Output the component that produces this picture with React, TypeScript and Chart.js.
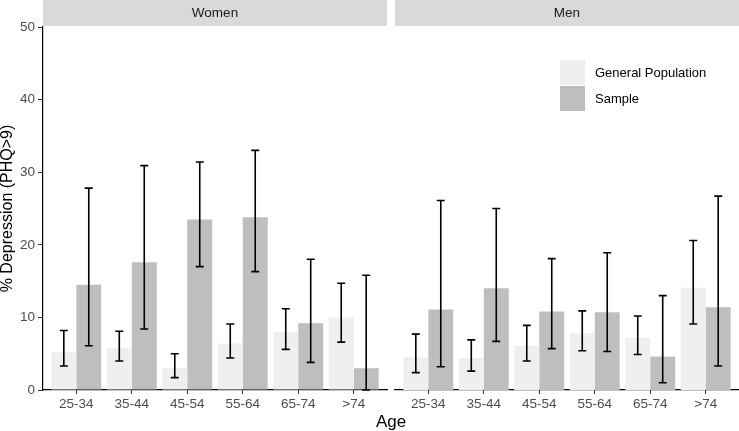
import React, { useEffect, useRef } from 'react';
import { Chart, registerables } from 'chart.js';

Chart.register(...registerables);

// ---------- data ----------
const ageGroups = ['25-34', '35-44', '45-54', '55-64', '65-74', '>74'];
const seriesNames = ['General Population', 'Sample'];
const yTicks = [0, 10, 20, 30, 40, 50];

const womenGP = [5.2, 5.8, 3.0, 6.4, 8.0, 10.0];
const womenGPLow = [3.3, 4.0, 1.7, 4.4, 5.6, 6.6];
const womenGPHigh = [8.2, 8.1, 5.0, 9.1, 11.2, 14.7];
const womenSample = [14.5, 17.6, 23.5, 23.8, 9.2, 3.0];
const womenSampleLow = [6.1, 8.4, 17.0, 16.3, 3.8, 0.0];
const womenSampleHigh = [27.8, 30.9, 31.4, 33.0, 18.0, 15.8];

const menGP = [4.5, 4.4, 6.1, 7.8, 7.2, 14.1];
const menGPLow = [2.4, 2.6, 4.0, 5.4, 4.9, 9.1];
const menGPHigh = [7.7, 6.9, 8.9, 10.9, 10.2, 20.6];
const menSample = [11.1, 14.0, 10.8, 10.7, 4.6, 11.4];
const menSampleLow = [3.2, 6.7, 5.7, 5.3, 1.0, 3.3];
const menSampleHigh = [26.1, 25.0, 18.1, 18.9, 13.0, 26.7];

// ---------- style / layout ----------
const W = 739;
const H = 431;
const FONT = '"Liberation Sans", Arial, sans-serif';
const GP_COLOR = '#efefef';
const SAMPLE_COLOR = '#bebebe';
const STRIP_COLOR = '#d9d9d9';
const LEFT_AXIS_W = 43;
const LEFT_PANEL_RIGHT = 387;
const RIGHT_PANEL_LEFT = 395;
const TOP = 27;
const X_AXIS_H = 41;

const errorBarPlugin = {
  id: 'errorBars',
  afterDatasetsDraw(chart: any) {
    const ctx = chart.ctx;
    const y = chart.scales.y;
    chart.data.datasets.forEach((ds: any, i: number) => {
      const meta = chart.getDatasetMeta(i);
      meta.data.forEach((bar: any, j: number) => {
        const lo = y.getPixelForValue(ds.errLow[j]);
        const hi = y.getPixelForValue(ds.errHigh[j]);
        const half = bar.width * 0.16;
        ctx.save();
        ctx.strokeStyle = '#000';
        ctx.lineWidth = 1.6;
        ctx.beginPath();
        ctx.moveTo(bar.x, lo);
        ctx.lineTo(bar.x, hi);
        ctx.moveTo(bar.x - half, lo);
        ctx.lineTo(bar.x + half, lo);
        ctx.moveTo(bar.x - half, hi);
        ctx.lineTo(bar.x + half, hi);
        ctx.stroke();
        ctx.restore();
      });
    });
  },
};

const stripPlugin = {
  id: 'strip',
  beforeDraw(chart: any, _args: any, opts: any) {
    const { ctx, chartArea } = chart;
    ctx.save();
    ctx.fillStyle = STRIP_COLOR;
    ctx.fillRect(chartArea.left, 0, chartArea.right - chartArea.left, 26);
    ctx.fillStyle = '#1a1a1a';
    ctx.font = `13.5px ${FONT}`;
    ctx.textAlign = 'center';
    ctx.textBaseline = 'middle';
    ctx.fillText(opts.text, (chartArea.left + chartArea.right) / 2, 13.5);
    ctx.restore();
  },
};

const legendPlugin = {
  id: 'panelLegend',
  afterDraw(chart: any, _args: any, opts: any) {
    if (!opts.show) return;
    const { ctx, chartArea } = chart;
    const x0 = chartArea.left + 165;
    const y0 = chartArea.top + 33;
    ctx.save();
    chart.data.datasets.forEach((ds: any, i: number) => {
      ctx.fillStyle = ds.backgroundColor;
      ctx.fillRect(x0, y0 + i * 26, 25, 25);
      ctx.fillStyle = '#000';
      ctx.font = `13px ${FONT}`;
      ctx.textAlign = 'left';
      ctx.textBaseline = 'middle';
      ctx.fillText(ds.label, x0 + 35, y0 + i * 26 + 13);
    });
    ctx.restore();
  },
};

const xTitlePlugin = {
  id: 'xTitle',
  afterDraw(chart: any, _args: any, opts: any) {
    if (!opts.show) return;
    const ctx = chart.ctx;
    ctx.save();
    ctx.fillStyle = '#000';
    ctx.font = `17px ${FONT}`;
    ctx.textAlign = 'center';
    ctx.textBaseline = 'middle';
    ctx.fillText('Age', (LEFT_AXIS_W + W) / 2, 422);
    ctx.restore();
  },
};

function makeConfig(
  panel: string,
  gp: number[], gpLow: number[], gpHigh: number[],
  sm: number[], smLow: number[], smHigh: number[],
  isLeft: boolean
): any {
  return {
    type: 'bar',
    data: {
      datasets: [
        {
          label: seriesNames[0],
          data: gp.map((v, i) => ({ x: i, y: v })),
          errLow: gpLow,
          errHigh: gpHigh,
          backgroundColor: GP_COLOR,
          borderWidth: 0,
          categoryPercentage: 0.9,
          barPercentage: 1.0,
        },
        {
          label: seriesNames[1],
          data: sm.map((v, i) => ({ x: i, y: v })),
          errLow: smLow,
          errHigh: smHigh,
          backgroundColor: SAMPLE_COLOR,
          borderWidth: 0,
          categoryPercentage: 0.9,
          barPercentage: 1.0,
        },
      ],
    },
    options: {
      responsive: false,
      animation: false,
      devicePixelRatio: 1,
      layout: {
        padding: isLeft
          ? { left: 0, right: W - LEFT_PANEL_RIGHT, top: TOP, bottom: 0 }
          : { left: RIGHT_PANEL_LEFT, right: 0, top: TOP, bottom: 0 },
      },
      plugins: {
        legend: { display: false },
        tooltip: { enabled: false },
        title: { display: false },
        strip: { text: panel },
        panelLegend: { show: !isLeft },
        xTitle: { show: !isLeft },
      },
      scales: {
        x: {
          type: 'linear',
          offset: false,
          min: -0.6,
          max: 5.6,
          afterBuildTicks: (scale: any) => {
            scale.ticks = ageGroups.map((_, i) => ({ value: i }));
          },
          afterFit: (scale: any) => {
            scale.height = X_AXIS_H;
          },
          ticks: {
            autoSkip: false,
            maxRotation: 0,
            padding: 2,
            color: '#4d4d4d',
            font: { family: FONT, size: 13.5 },
            callback: (v: number) => ageGroups[Math.round(v)],
          },
          grid: {
            display: true,
            offset: false,
            drawOnChartArea: false,
            drawTicks: true,
            tickLength: 4,
            color: '#333333',
          },
          border: { display: true, color: '#000', width: 1.2 },
        },
        y: {
          display: isLeft,
          min: 0,
          max: 50,
          afterBuildTicks: (scale: any) => {
            scale.ticks = yTicks.map((v) => ({ value: v }));
          },
          afterFit: (scale: any) => {
            if (isLeft) scale.width = LEFT_AXIS_W;
          },
          ticks: {
            padding: 3,
            color: '#4d4d4d',
            font: { family: FONT, size: 13.5 },
          },
          grid: {
            display: true,
            drawOnChartArea: false,
            drawTicks: true,
            tickLength: 5,
            color: '#333333',
          },
          border: { display: true, color: '#000', width: 1.2 },
          title: {
            display: true,
            text: '% Depression (PHQ>9)',
            color: '#000',
            font: { family: FONT, size: 16, lineHeight: 1 },
            padding: { top: 0, bottom: 0 },
          },
        },
      },
    },
    plugins: [stripPlugin, errorBarPlugin, legendPlugin, xTitlePlugin],
  };
}

export default function App() {
  const leftRef = useRef<HTMLCanvasElement>(null);
  const rightRef = useRef<HTMLCanvasElement>(null);

  useEffect(() => {
    const left = new Chart(
      leftRef.current as HTMLCanvasElement,
      makeConfig('Women', womenGP, womenGPLow, womenGPHigh, womenSample, womenSampleLow, womenSampleHigh, true)
    );
    const right = new Chart(
      rightRef.current as HTMLCanvasElement,
      makeConfig('Men', menGP, menGPLow, menGPHigh, menSample, menSampleLow, menSampleHigh, false)
    );
    return () => {
      left.destroy();
      right.destroy();
    };
  }, []);

  const canvasStyle: React.CSSProperties = {
    position: 'absolute',
    left: 0,
    top: 0,
    width: W,
    height: H,
  };

  return (
    <div style={{ position: 'fixed', left: 0, top: 0, width: W, height: H, background: '#fff' }}>
      <canvas ref={leftRef} width={W} height={H} style={canvasStyle} />
      <canvas ref={rightRef} width={W} height={H} style={canvasStyle} />
    </div>
  );
}
